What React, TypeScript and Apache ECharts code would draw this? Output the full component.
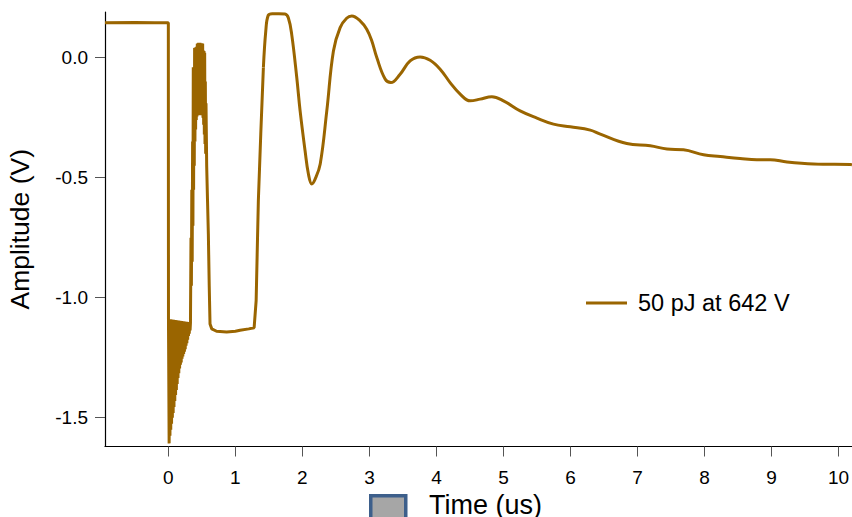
import React, { useEffect, useRef } from "react";
import * as echarts from "echarts";

// Pulse response: time in microseconds, amplitude in volts.
// Pre-trigger baseline.
const baseline: [number, number][] = [
  [-0.945, 0.145],
  [-0.5, 0.146],
  [-0.2, 0.145],
  [0.0, 0.145],
];

// Fast ringing right after the trigger edge (alternating crest / trough).
const ringDown: [number, number][] = [
  [0.002, -1.09], [0.012, -1.607], [0.018, -1.09], [0.024, -1.575],
  [0.03, -1.09], [0.036, -1.55], [0.042, -1.091], [0.048, -1.525],
  [0.054, -1.091], [0.06, -1.5], [0.066, -1.092], [0.072, -1.48],
  [0.078, -1.092], [0.084, -1.455], [0.09, -1.093], [0.096, -1.43],
  [0.102, -1.093], [0.108, -1.405], [0.114, -1.094], [0.12, -1.385],
  [0.126, -1.094], [0.132, -1.36], [0.138, -1.095], [0.144, -1.335],
  [0.15, -1.095], [0.156, -1.315], [0.162, -1.096], [0.168, -1.295],
  [0.174, -1.096], [0.18, -1.28], [0.186, -1.097], [0.192, -1.27],
  [0.198, -1.097], [0.204, -1.255], [0.21, -1.098], [0.216, -1.245],
  [0.222, -1.098], [0.228, -1.235], [0.234, -1.099], [0.24, -1.225],
  [0.246, -1.099], [0.252, -1.215], [0.258, -1.1], [0.264, -1.2],
  [0.27, -1.1], [0.276, -1.19], [0.282, -1.101], [0.288, -1.175],
  [0.294, -1.101], [0.3, -1.16], [0.306, -1.102], [0.312, -1.15],
  [0.318, -1.103], [0.324, -1.136], [0.33, -1.105],
];

// Oscillating spike between 0.33 and 0.62 us.
const spike: [number, number][] = [
  [0.338, -0.75], [0.344, -0.95], [0.35, -0.55], [0.356, -0.85],
  [0.362, -0.35], [0.367, -0.7], [0.372, -0.04], [0.377, -0.55],
  [0.382, -0.04], [0.387, -0.45], [0.392, 0.04], [0.397, -0.35],
  [0.402, 0.042], [0.407, -0.3], [0.412, 0.042], [0.417, -0.26],
  [0.422, 0.045], [0.427, -0.245], [0.432, 0.058], [0.437, -0.24],
  [0.442, 0.06], [0.447, -0.24], [0.452, 0.062], [0.457, -0.24],
  [0.462, 0.062], [0.467, -0.24], [0.472, 0.062], [0.477, -0.24],
  [0.482, 0.06], [0.487, -0.24], [0.492, 0.06], [0.497, -0.24],
  [0.502, 0.06], [0.507, -0.24], [0.512, 0.058], [0.517, -0.25],
  [0.522, 0.03], [0.527, -0.28], [0.532, 0.028], [0.537, -0.32],
  [0.542, 0.02], [0.547, -0.36], [0.552, -0.1], [0.557, -0.4],
  [0.562, -0.19], [0.572, -0.45], [0.585, -0.6], [0.597, -0.735],
  [0.61, -0.95], [0.622, -1.11],
];

// Low plateau before recovery.
const plateau: [number, number][] = [
  [0.648, -1.13], [0.72, -1.14], [0.87, -1.143], [1.0, -1.14],
  [1.07, -1.136], [1.2, -1.13], [1.28, -1.125], [1.31, -1.012],
  [1.343, -0.596], [1.379, -0.318], [1.418, -0.042],
];

// Recovery and damped oscillation.
const recovery: [number, number][] = [
  [1.418, -0.042], [1.454, 0.111], [1.49, 0.176], [1.55, 0.183],
  [1.65, 0.183], [1.74, 0.182], [1.79, 0.166], [1.84, 0.098],
  [1.916, -0.083], [1.966, -0.222], [2.04, -0.388], [2.09, -0.485],
  [2.14, -0.526], [2.19, -0.506], [2.266, -0.443], [2.364, -0.222],
  [2.463, 0.028], [2.563, 0.125], [2.66, 0.164], [2.737, 0.173],
  [2.861, 0.153], [2.96, 0.118], [3.036, 0.069], [3.11, 0.0],
  [3.234, -0.089], [3.32, -0.104], [3.458, -0.069], [3.607, -0.014],
  [3.756, 0.003], [3.906, -0.011], [4.055, -0.048], [4.204, -0.104],
  [4.354, -0.152], [4.503, -0.18], [4.652, -0.173], [4.827, -0.163],
  [5.0, -0.18], [5.249, -0.222], [5.499, -0.252], [5.746, -0.277],
  [5.997, -0.288], [6.296, -0.302], [6.445, -0.319], [6.84, -0.358],
  [7.19, -0.367], [7.44, -0.381], [7.686, -0.384], [7.985, -0.405],
  [8.234, -0.412], [8.53, -0.42], [8.78, -0.425], [8.98, -0.425],
  [9.23, -0.435], [9.627, -0.443], [10.175, -0.445], [10.2, -0.446],
];

const xTicks = [0, 1, 2, 3, 4, 5, 6, 7, 8, 9, 10];
const yTicks = [-1.5, -1.0, -0.5, 0.0];

const seriesName = "50 pJ at 642 V";
const traceColor = "#9a6500";
const font = "'Liberation Sans', Arial, sans-serif";

export default function App() {
  const ref = useRef<HTMLDivElement>(null);

  useEffect(() => {
    if (!ref.current) return;
    const chart = echarts.init(ref.current, undefined, { renderer: "svg" });
    const fastPart = [...baseline, ...ringDown, ...spike, ...plateau];

    chart.setOption({
      animation: false,
      backgroundColor: "#ffffff",
      textStyle: { fontFamily: font },
      grid: {
        left: 105,
        right: 0,
        top: 12,
        bottom: 70.5,
        containLabel: false,
        outerBoundsMode: "none",
      },
      legend: {
        left: 586,
        top: 291,
        padding: 0,
        icon: "rect",
        itemWidth: 41,
        itemHeight: 3,
        data: [seriesName],
        textStyle: { fontSize: 23.5, color: "#000", fontFamily: font, padding: [0, 0, 0, 6] },
      },
      xAxis: {
        type: "value",
        min: -0.945,
        max: 10.2,
        name: "Time (us)",
        nameLocation: "middle",
        nameGap: 45,
        nameTextStyle: { fontSize: 27, color: "#000", fontFamily: font, padding: [0, 0, 0, 14] },
        axisLine: { show: true, onZero: false, lineStyle: { color: "#000", width: 1.2 } },
        axisTick: { show: true, inside: false, length: 10, customValues: xTicks, lineStyle: { color: "#555" } },
        axisLabel: {
          customValues: xTicks,
          margin: 21,
          fontSize: 19,
          color: "#000",
          fontFamily: font,
          formatter: (v: number) => String(v),
        },
        splitLine: { show: false },
      },
      yAxis: {
        type: "value",
        min: -1.62,
        max: 0.19,
        name: "Amplitude (V)",
        nameLocation: "middle",
        nameGap: 72,
        nameTextStyle: { fontSize: 26.5, color: "#000", fontFamily: font },
        axisLine: { show: true, onZero: false, lineStyle: { color: "#000", width: 1.2 } },
        axisTick: { show: true, inside: false, length: 10, customValues: yTicks, lineStyle: { color: "#555" } },
        axisLabel: {
          customValues: yTicks,
          margin: 17,
          fontSize: 19,
          color: "#000",
          fontFamily: font,
          formatter: (v: number) => v.toFixed(1),
        },
        splitLine: { show: false },
      },
      graphic: [
        {
          type: "rect",
          left: 369,
          top: 494,
          shape: { width: 35, height: 34 },
          style: { fill: "#a6a6a6", stroke: "#3d5f8b", lineWidth: 3.5 },
        },
      ],
      series: [
        {
          name: seriesName,
          type: "line",
          data: fastPart,
          showSymbol: false,
          symbol: "none",
          lineStyle: { color: traceColor, width: 3 },
          itemStyle: { color: traceColor },
          clip: true,
        },
        {
          name: seriesName,
          type: "line",
          data: recovery,
          showSymbol: false,
          symbol: "none",
          smooth: 0.4,
          lineStyle: { color: traceColor, width: 3 },
          itemStyle: { color: traceColor },
          clip: true,
        },
      ],
    });

    return () => chart.dispose();
  }, []);

  return (
    <div
      ref={ref}
      style={{ position: "fixed", left: 0, top: 0, width: 852, height: 517 }}
    />
  );
}
